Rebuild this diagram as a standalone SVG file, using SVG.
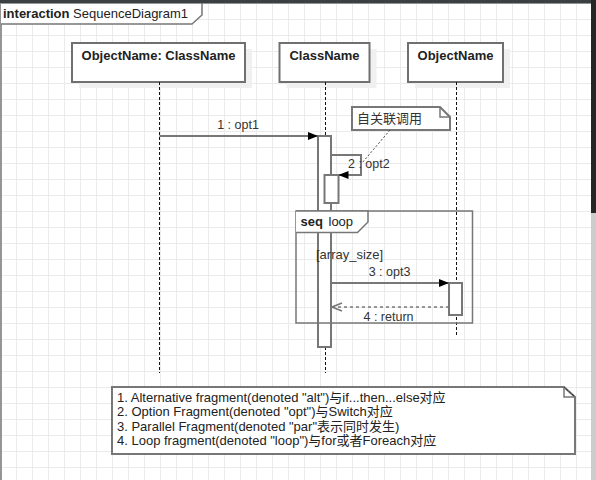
<svg xmlns="http://www.w3.org/2000/svg" width="596" height="480" viewBox="0 0 596 480">
<style>
text{font-family:"Liberation Sans","Noto Sans CJK SC",sans-serif;fill:#222}
.bx{fill:#fff;stroke:#707070;stroke-width:2}
.sh{fill:#f0f0f0}
.nm{font-size:13px;font-weight:bold;text-anchor:middle}
.life{stroke:#111;stroke-width:1;stroke-dasharray:3,2;fill:none}
.act{fill:#fff;stroke:#777;stroke-width:2}
.msg{stroke:#777;stroke-width:2;fill:none}
.ret{stroke:#777;stroke-width:1.5;stroke-dasharray:3,3;fill:none}
.lbl{font-size:12.5px;fill:#333}
.frm{fill:none;stroke:#777;stroke-width:1.5}
.note{fill:#fff;stroke:#777;stroke-width:2}
</style>
<defs>
<pattern id="grid" x="0" y="3" width="16" height="16" patternUnits="userSpaceOnUse">
<path d="M0.5,0 V16 M0,0.5 H16" stroke="#ebebeb" stroke-width="1" fill="none"/>
</pattern>
<marker id="fa" viewBox="0 0 10 8" refX="10" refY="4" markerWidth="10" markerHeight="8" markerUnits="userSpaceOnUse" orient="auto">
<path d="M0,0 L10,4 L0,8 Z" fill="#000"/>
</marker>
<marker id="oa" viewBox="-1 -1 12 10" refX="10" refY="4" markerWidth="12" markerHeight="10" markerUnits="userSpaceOnUse" orient="auto">
<path d="M0,0 L10,4 L0,8" fill="none" stroke="#777" stroke-width="1.5"/>
</marker>
</defs>
<rect x="0" y="0" width="596" height="480" fill="#fff"/>
<rect x="0" y="0" width="596" height="480" fill="url(#grid)"/>

<g id="frame">
<rect class="frm" x="1" y="3" width="620" height="500"/>
<path d="M1,3 H202 V15 L192,24 H1" fill="#fff" stroke="#777" stroke-width="1.5"/>
<text x="3" y="18" style="font-size:13px"><tspan font-weight="bold">interaction</tspan> SequenceDiagram1</text>
</g>

<g id="lifeline-objectname-classname">
<rect class="sh" x="79" y="49" width="173" height="39"/>
<rect class="bx" x="72" y="43" width="173" height="39"/>
<text class="nm" x="158.5" y="60">ObjectName: ClassName</text>
<line class="life" x1="159.5" y1="82" x2="159.5" y2="373"/>
</g>

<g id="lifeline-classname">
<rect class="sh" x="286.5" y="49" width="90" height="39"/>
<rect class="bx" x="279.5" y="43" width="90" height="39"/>
<text class="nm" x="324.5" y="60">ClassName</text>
<line class="life" x1="325.5" y1="82" x2="325.5" y2="373"/>
</g>

<g id="lifeline-objectname">
<rect class="sh" x="415" y="49" width="95" height="39"/>
<rect class="bx" x="408" y="43" width="95" height="39"/>
<text class="nm" x="455.5" y="60">ObjectName</text>
<line class="life" x1="456.5" y1="82" x2="456.5" y2="337"/>
</g>

<g id="activation-classname">
<rect class="act" x="318" y="136" width="13" height="211"/>
</g>
<g id="activation-classname-nested">
<rect class="act" x="324.5" y="175" width="14" height="28"/>
</g>
<g id="activation-objectname">
<rect class="act" x="449" y="283" width="13" height="32"/>
</g>

<g id="loop-fragment">
<rect class="frm" x="296" y="211" width="176.5" height="112"/>
<path d="M296,211 H368 V222 L357.5,232.5 H296" fill="#fff" stroke="#777" stroke-width="1.5"/>
<text y="226" style="font-size:13px"><tspan x="300.5" font-weight="bold">seq</tspan><tspan x="328.5">loop</tspan></text>
<text x="316" y="258.5" style="font-size:13px;fill:#333">[array_size]</text>
</g>

<g id="note-self">
<path class="note" d="M352,107 H440 L450,117 V130 H352 Z" stroke-width="1.5"/>
<path d="M440,107 V117 H450" fill="none" stroke="#777" stroke-width="1.5"/>
<text x="357" y="122.5" style="font-size:13px;fill:#333">自关联调用</text>
</g>

<g id="note-fragments">
<path class="note" d="M112,387 H564 L575,397 V454 H112 Z"/>
<path d="M564,387 V397 H575" fill="none" stroke="#777" stroke-width="1.5"/>
<path d="M564.5,387.5 L574.5,396.5" stroke="#000" stroke-width="1" stroke-dasharray="1,1"/>
<text style="font-size:13px">
<tspan x="117" y="402">1. Alternative fragment(denoted "alt")与if...then...else对应</tspan>
<tspan x="117" y="416.3">2. Option Fragment(denoted "opt")与Switch对应</tspan>
<tspan x="117" y="430.5">3. Parallel Fragment(denoted "par"表示同时发生)</tspan>
<tspan x="117" y="444.7">4. Loop fragment(denoted "loop")与for或者Foreach对应</tspan>
</text>
</g>

<g id="connectors">
<line class="msg" x1="159.5" y1="136" x2="318" y2="136" marker-end="url(#fa)"/>
<text class="lbl" x="238" y="129" text-anchor="middle">1 : opt1</text>
<path class="msg" d="M331,155 H361 V175 H338.5" marker-end="url(#fa)"/>
<text class="lbl" x="348" y="167.5">2 : opt2</text>
<line x1="390" y1="130" x2="362" y2="163" stroke="#444" stroke-width="1" stroke-dasharray="2,2"/>
<line class="msg" x1="331" y1="283" x2="449" y2="283" marker-end="url(#fa)"/>
<text class="lbl" x="389.5" y="276" text-anchor="middle">3 : opt3</text>
<line class="ret" x1="449" y1="307" x2="332" y2="307" marker-end="url(#oa)"/>
<text class="lbl" x="388.5" y="320.5" text-anchor="middle">4 : return</text>
</g>

<rect x="0" y="0" width="596" height="3" fill="#3b4043"/>
<rect x="591" y="0" width="5" height="480" fill="#cccccc"/>
<rect x="591" y="0" width="5" height="213" fill="#262626"/>
</svg>
